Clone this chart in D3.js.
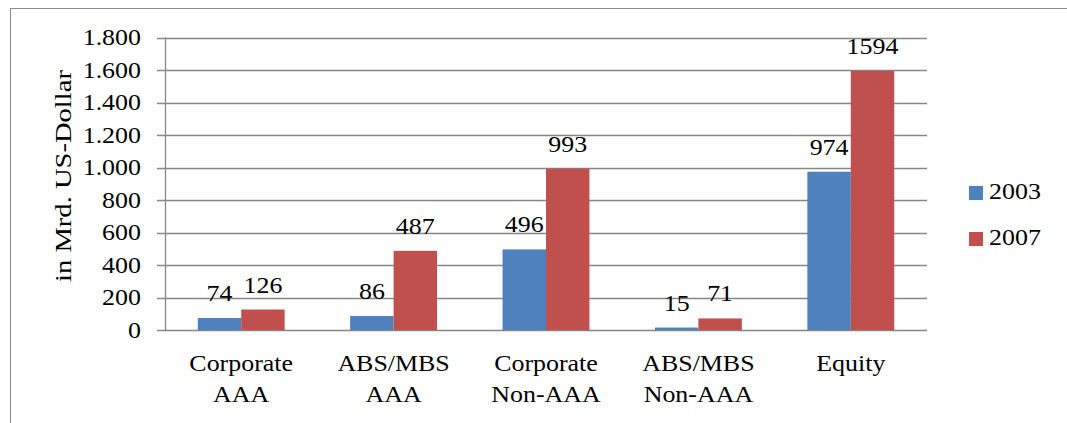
<!DOCTYPE html>
<html>
<head>
<meta charset="utf-8">
<script src="https://cdn.jsdelivr.net/npm/d3@7"></script>
<style>
  body { margin: 0; background: #fff; }
  svg text { font-family: 'Liberation Serif', 'Times New Roman', Times, 'DejaVu Serif', serif; fill: #000; }
</style>
</head>
<body>
<div id="chart"></div>
<script>
// chart data
const categories = [["Corporate", "AAA"], ["ABS/MBS", "AAA"], ["Corporate", "Non-AAA"], ["ABS/MBS", "Non-AAA"], ["Equity"]];
const seriesNames = ["2003", "2007"];
const values2003 = [74, 86, 496, 15, 974];
const values2007 = [126, 487, 993, 71, 1594];
const yTicks = [0, 200, 400, 600, 800, 1000, 1200, 1400, 1600, 1800];

const colors = ["#4F81BD", "#C0504D"];
const width = 1067, height = 423;
const plot = { left: 165, right: 927, top: 37.5, bottom: 330 };
const fontSize = 24;
const stretch = 1.08; // the source picture is a little wider than tall

const locale = d3.formatLocale({ decimal: ",", thousands: ".", grouping: [3], currency: ["", ""] });
const fmt = locale.format(",d");

// widen text a bit to match the stretched original
function widen(sel, k) {
    sel.each(function () {
        const len = this.getComputedTextLength();
        d3.select(this)
            .attr("textLength", len * k)
            .attr("lengthAdjust", "spacingAndGlyphs");
    });
}

const svg = d3.select("#chart").append("svg")
    .attr("width", width)
    .attr("height", height);

// outer frame
svg.append("rect")
    .attr("x", 10.5).attr("y", 8.5)
    .attr("width", width + 20).attr("height", height + 20)
    .attr("fill", "none")
    .attr("stroke", "#8c8c8c");

const x0 = d3.scaleBand()
    .domain(d3.range(categories.length))
    .range([plot.left, plot.right])
    .paddingInner(0.43)
    .paddingOuter(0.215);

const x1 = d3.scaleBand()
    .domain(seriesNames)
    .range([0, x0.bandwidth()]);

const y = d3.scaleLinear()
    .domain([0, 1800])
    .range([plot.bottom, plot.top]);

// gridlines + ticks
svg.append("g").selectAll("line")
    .data(yTicks)
    .join("line")
    .attr("x1", plot.left - 8)
    .attr("x2", plot.right)
    .attr("y1", d => Math.round(y(d)) + 0.5)
    .attr("y2", d => Math.round(y(d)) + 0.5)
    .attr("stroke", "#868686")
    .attr("stroke-width", 1.3);

svg.append("line")
    .attr("x1", plot.left + 0.5).attr("x2", plot.left + 0.5)
    .attr("y1", plot.top).attr("y2", plot.bottom)
    .attr("stroke", "#868686")
    .attr("stroke-width", 1.3);

svg.append("g").selectAll("text")
    .data(yTicks)
    .join("text")
    .attr("x", 141)
    .attr("y", d => y(d))
    .attr("dy", "0.33em")
    .attr("text-anchor", "end")
    .attr("font-size", fontSize)
    .text(d => fmt(d))
    .call(widen, stretch);

// y title
svg.append("text")
    .attr("transform", "translate(71,176) rotate(-90)")
    .attr("text-anchor", "middle")
    .attr("font-size", fontSize)
    .text("in Mrd. US-Dollar")
    .call(widen, 1.19);

// bars
const rows = categories.map((c, i) => ({ i, vals: [values2003[i], values2007[i]] }));
const groups = svg.append("g").selectAll("g")
    .data(rows)
    .join("g")
    .attr("transform", d => `translate(${x0(d.i)},0)`);

groups.selectAll("rect")
    .data(d => d.vals.map((v, k) => ({ v, k })))
    .join("rect")
    .attr("x", d => x1(seriesNames[d.k]))
    .attr("y", d => y(d.v))
    .attr("width", x1.bandwidth())
    .attr("height", d => plot.bottom - y(d.v))
    .attr("fill", d => colors[d.k]);

groups.selectAll("text")
    .data(d => d.vals.map((v, k) => ({ v, k })))
    .join("text")
    .attr("x", d => x1(seriesNames[d.k]) + x1.bandwidth() / 2)
    .attr("y", d => y(d.v) - 17)
    .attr("text-anchor", "middle")
    .attr("font-size", fontSize)
    .text(d => d.v)
    .call(widen, stretch);

// category labels
svg.append("g").selectAll("text")
    .data(categories.flatMap((d, i) => d.map((t, j) => ({ t, i, j }))))
    .join("text")
    .attr("x", d => x0(d.i) + x0.bandwidth() / 2)
    .attr("y", d => 371 + d.j * 31)
    .attr("text-anchor", "middle")
    .attr("font-size", fontSize)
    .text(d => d.t)
    .call(widen, stretch);

// legend
const legend = svg.append("g").attr("transform", "translate(969,186)");
const items = legend.selectAll("g")
    .data(seriesNames)
    .join("g")
    .attr("transform", (d, i) => `translate(0,${i * 46})`);
items.append("rect")
    .attr("width", 14).attr("height", 14)
    .attr("fill", (d, i) => colors[i]);
items.append("text")
    .attr("x", 20).attr("y", 13)
    .attr("font-size", fontSize)
    .text(d => d)
    .call(widen, stretch);
</script>
</body>
</html>
